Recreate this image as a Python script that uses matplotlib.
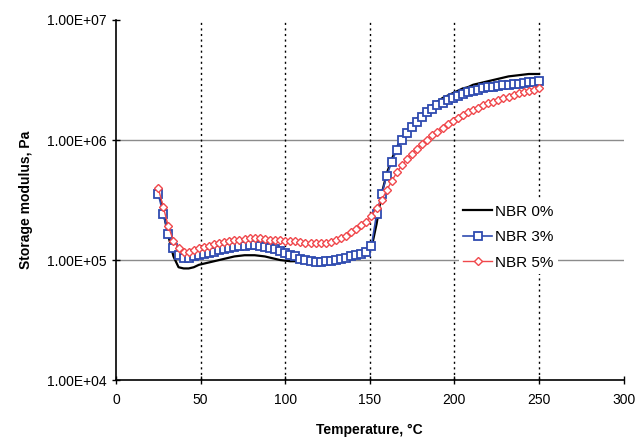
import numpy as np
import matplotlib.pyplot as plt

plt.rcParams['font.family'] = ['Liberation Sans', 'DejaVu Sans']

# Temperature grid (deg C) and log10 of storage modulus (Pa)
temps = [25, 28, 31, 34, 37, 40, 43, 46, 49, 52, 55, 58, 61, 64, 67, 70, 73, 76,
         79, 82, 85, 88, 91, 94, 97, 100, 103, 106, 109, 112, 115, 118, 121, 124,
         127, 130, 133, 136, 139, 142, 145, 148, 151, 154, 157, 160, 163, 166, 169,
         172, 175, 178, 181, 184, 187, 190, 193, 196, 199, 202, 205, 208, 211, 214,
         217, 220, 223, 226, 229, 232, 235, 238, 241, 244, 247, 250]

nbr0_log = [5.60, 5.40, 5.20, 5.03, 4.94, 4.93, 4.93, 4.94, 4.96, 4.97, 4.98, 4.99,
            5.00, 5.01, 5.02, 5.03, 5.035, 5.04, 5.04, 5.04, 5.035, 5.03, 5.02, 5.01,
            5.00, 4.995, 4.99, 4.99, 4.99, 4.99, 4.99, 4.99, 4.99, 4.99, 4.995, 5.00,
            5.00, 5.01, 5.02, 5.03, 5.04, 5.06, 5.10, 5.30, 5.55, 5.72, 5.84, 5.94,
            6.02, 6.08, 6.13, 6.18, 6.22, 6.26, 6.29, 6.32, 6.35, 6.37, 6.39, 6.41,
            6.43, 6.44, 6.46, 6.47, 6.48, 6.49, 6.50, 6.51, 6.52, 6.53, 6.535, 6.54,
            6.545, 6.55, 6.55, 6.55]

nbr3_log = [5.55, 5.38, 5.22, 5.10, 5.04, 5.02, 5.02, 5.03, 5.04, 5.05, 5.06, 5.07,
            5.08, 5.09, 5.10, 5.11, 5.115, 5.12, 5.125, 5.125, 5.12, 5.11, 5.10, 5.09,
            5.075, 5.06, 5.04, 5.03, 5.01, 5.00, 4.99, 4.985, 4.985, 4.99, 4.995, 5.00,
            5.01, 5.02, 5.03, 5.04, 5.05, 5.07, 5.12, 5.38, 5.55, 5.70, 5.82, 5.92,
            6.00, 6.06, 6.11, 6.15, 6.19, 6.23, 6.26, 6.29, 6.31, 6.33, 6.35, 6.37,
            6.38, 6.40, 6.41, 6.42, 6.43, 6.44, 6.445, 6.45, 6.455, 6.46, 6.465, 6.47,
            6.475, 6.48, 6.485, 6.49]

nbr5_log = [5.60, 5.44, 5.28, 5.16, 5.10, 5.07, 5.07, 5.08, 5.10, 5.11, 5.12, 5.13,
            5.14, 5.15, 5.16, 5.165, 5.17, 5.175, 5.18, 5.18, 5.18, 5.175, 5.17, 5.17,
            5.165, 5.16, 5.16, 5.155, 5.15, 5.145, 5.14, 5.14, 5.14, 5.145, 5.15, 5.165,
            5.18, 5.20, 5.23, 5.26, 5.29, 5.32, 5.37, 5.43, 5.50, 5.58, 5.66, 5.73,
            5.79, 5.84, 5.885, 5.925, 5.965, 6.00, 6.04, 6.07, 6.10, 6.13, 6.16, 6.185,
            6.21, 6.23, 6.25, 6.27, 6.29, 6.305, 6.32, 6.335, 6.35, 6.36, 6.375, 6.39,
            6.40, 6.41, 6.42, 6.43]

x_ticks = [0, 50, 100, 150, 200, 250, 300]
y_ticks = [1e4, 1e5, 1e6, 1e7]
y_ticklabels = ["1.00E+04", "1.00E+05", "1.00E+06", "1.00E+07"]

fig = plt.figure(figsize=(6.37, 4.44), dpi=100)
ax = fig.add_axes([0.182, 0.144, 0.797, 0.811])

# grid lines
for v in [1e5, 1e6]:
    ax.axhline(v, color='#8c8c8c', lw=1.0, zorder=1)
for t in [50, 100, 150, 200, 250]:
    ax.axvline(t, color='black', lw=1.0, ls=(0, (1.5, 2.5)), zorder=1)

ax.plot(temps, 10 ** np.array(nbr0_log), color='black', lw=1.6, label='NBR 0%', zorder=3)
ax.plot(temps, 10 ** np.array(nbr3_log), color='#2f4bb0', lw=1.2, marker='s', ms=5.2,
        mfc='white', mec='#2f4bb0', mew=1.3, label='NBR 3%', zorder=4)
ax.plot(temps, 10 ** np.array(nbr5_log), color='#f0484c', lw=1.0, marker='D', ms=4.5,
        mfc='white', mec='#f0484c', mew=1.0, label='NBR 5%', zorder=5)

ax.set_yscale('log')
ax.set_xlim(0, 300)
ax.set_ylim(1e4, 1e7)
ax.set_xticks(x_ticks)
ax.set_yticks(y_ticks)
ax.set_yticklabels(y_ticklabels)
ax.yaxis.set_minor_locator(plt.NullLocator())
ax.tick_params(axis='both', labelsize=10, direction='inout', length=6, width=1)
ax.tick_params(axis='x', pad=6)

for s in ['top', 'right']:
    ax.spines[s].set_visible(False)
for s in ['left', 'bottom']:
    ax.spines[s].set_linewidth(1.2)

ax.set_xlabel('Temperature, °C', fontsize=10, fontweight='bold', labelpad=12)
ax.set_ylabel('Storage modulus, Pa', fontsize=10, fontweight='bold', labelpad=10)

leg = ax.legend(loc='center left', bbox_to_anchor=(0.66, 0.397), frameon=True,
                fontsize=11, handlelength=1.9, handletextpad=0.2, labelspacing=0.75,
                borderpad=0.3)
leg.get_frame().set_edgecolor('none')
leg.get_frame().set_facecolor('white')
leg.get_frame().set_alpha(1.0)
leg.set_zorder(6)

fig.savefig('out.png', dpi=100)
